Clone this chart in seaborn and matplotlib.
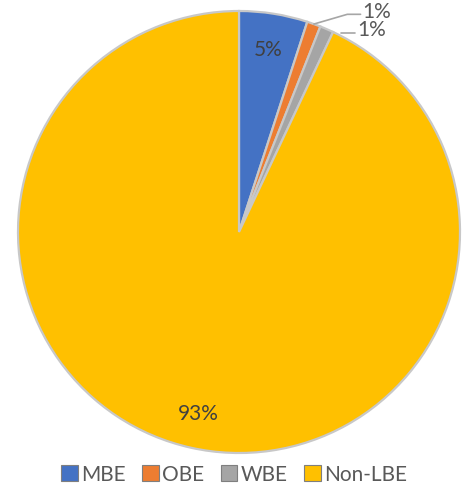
import matplotlib
matplotlib.use("Agg")
import matplotlib.pyplot as plt
import seaborn as sns
import numpy as np

categories = ["MBE", "OBE", "WBE", "Non-LBE"]
values = [5, 1, 1, 93]
colors = ["#4472C4", "#ED7D31", "#A5A5A5", "#FFC000"]

sns.set_theme(style="white")
plt.rcParams['font.family'] = ['Lato', 'DejaVu Sans']

W, H = 468, 485
fig = plt.figure(figsize=(W / 100, H / 100), dpi=100)
cx, cy, r = 239, 233, 221
ax = fig.add_axes([(cx - r) / W, (H - cy - r) / H, 2 * r / W, 2 * r / H])

total = sum(values)
def fmt(p):
    return f"{p:.0f}%" if p >= 3 else ""

wedges, texts, autotexts = ax.pie(
    values, colors=colors, startangle=90, counterclock=False,
    autopct=fmt, pctdistance=0.84,
    wedgeprops=dict(edgecolor="#C8C8C8", linewidth=1.6),
    textprops=dict(fontsize=15, color="#404040"),
)
ax.set_xlim(-1, 1)
ax.set_ylim(-1, 1)
ax.set_aspect("equal")
ax.axis("off")

# outer labels for the small slices
label_offsets = {1: ((0.49, 0.985), (0.55, 0.985), (0.56, 1.0)),
                 2: ((0.46, 0.90), (0.525, 0.90), (0.535, 0.92))}
for i, (knee, end, txt) in label_offsets.items():
    w = wedges[i]
    ang = np.deg2rad((w.theta1 + w.theta2) / 2)
    start = (np.cos(ang) * 1.0, np.sin(ang) * 1.0)
    if i == 2:
        xs = [knee[0], end[0]]
        ys = [knee[1], end[1]]
    else:
        xs = [start[0], knee[0], end[0]]
        ys = [start[1], knee[1], end[1]]
    ax.plot(xs, ys, color="#A6A6A6", lw=1.2, clip_on=False)
    pct = values[i] / total * 100
    ax.text(txt[0], txt[1], f"{pct:.0f}%", fontsize=15, color="#595959",
            ha="left", va="center", clip_on=False)

handles = [plt.Rectangle((0, 0), 1, 1, facecolor=c, edgecolor="#7F7F7F", lw=0.8) for c in colors]
fig.legend(handles, categories, loc="center", bbox_to_anchor=(234 / W, 1 - 475 / H),
           ncol=4, frameon=False, fontsize=15, handlelength=0.8, handleheight=0.8,
           handletextpad=0.15, columnspacing=0.8, labelcolor="#595959")

fig.savefig("out.png", dpi=100)
